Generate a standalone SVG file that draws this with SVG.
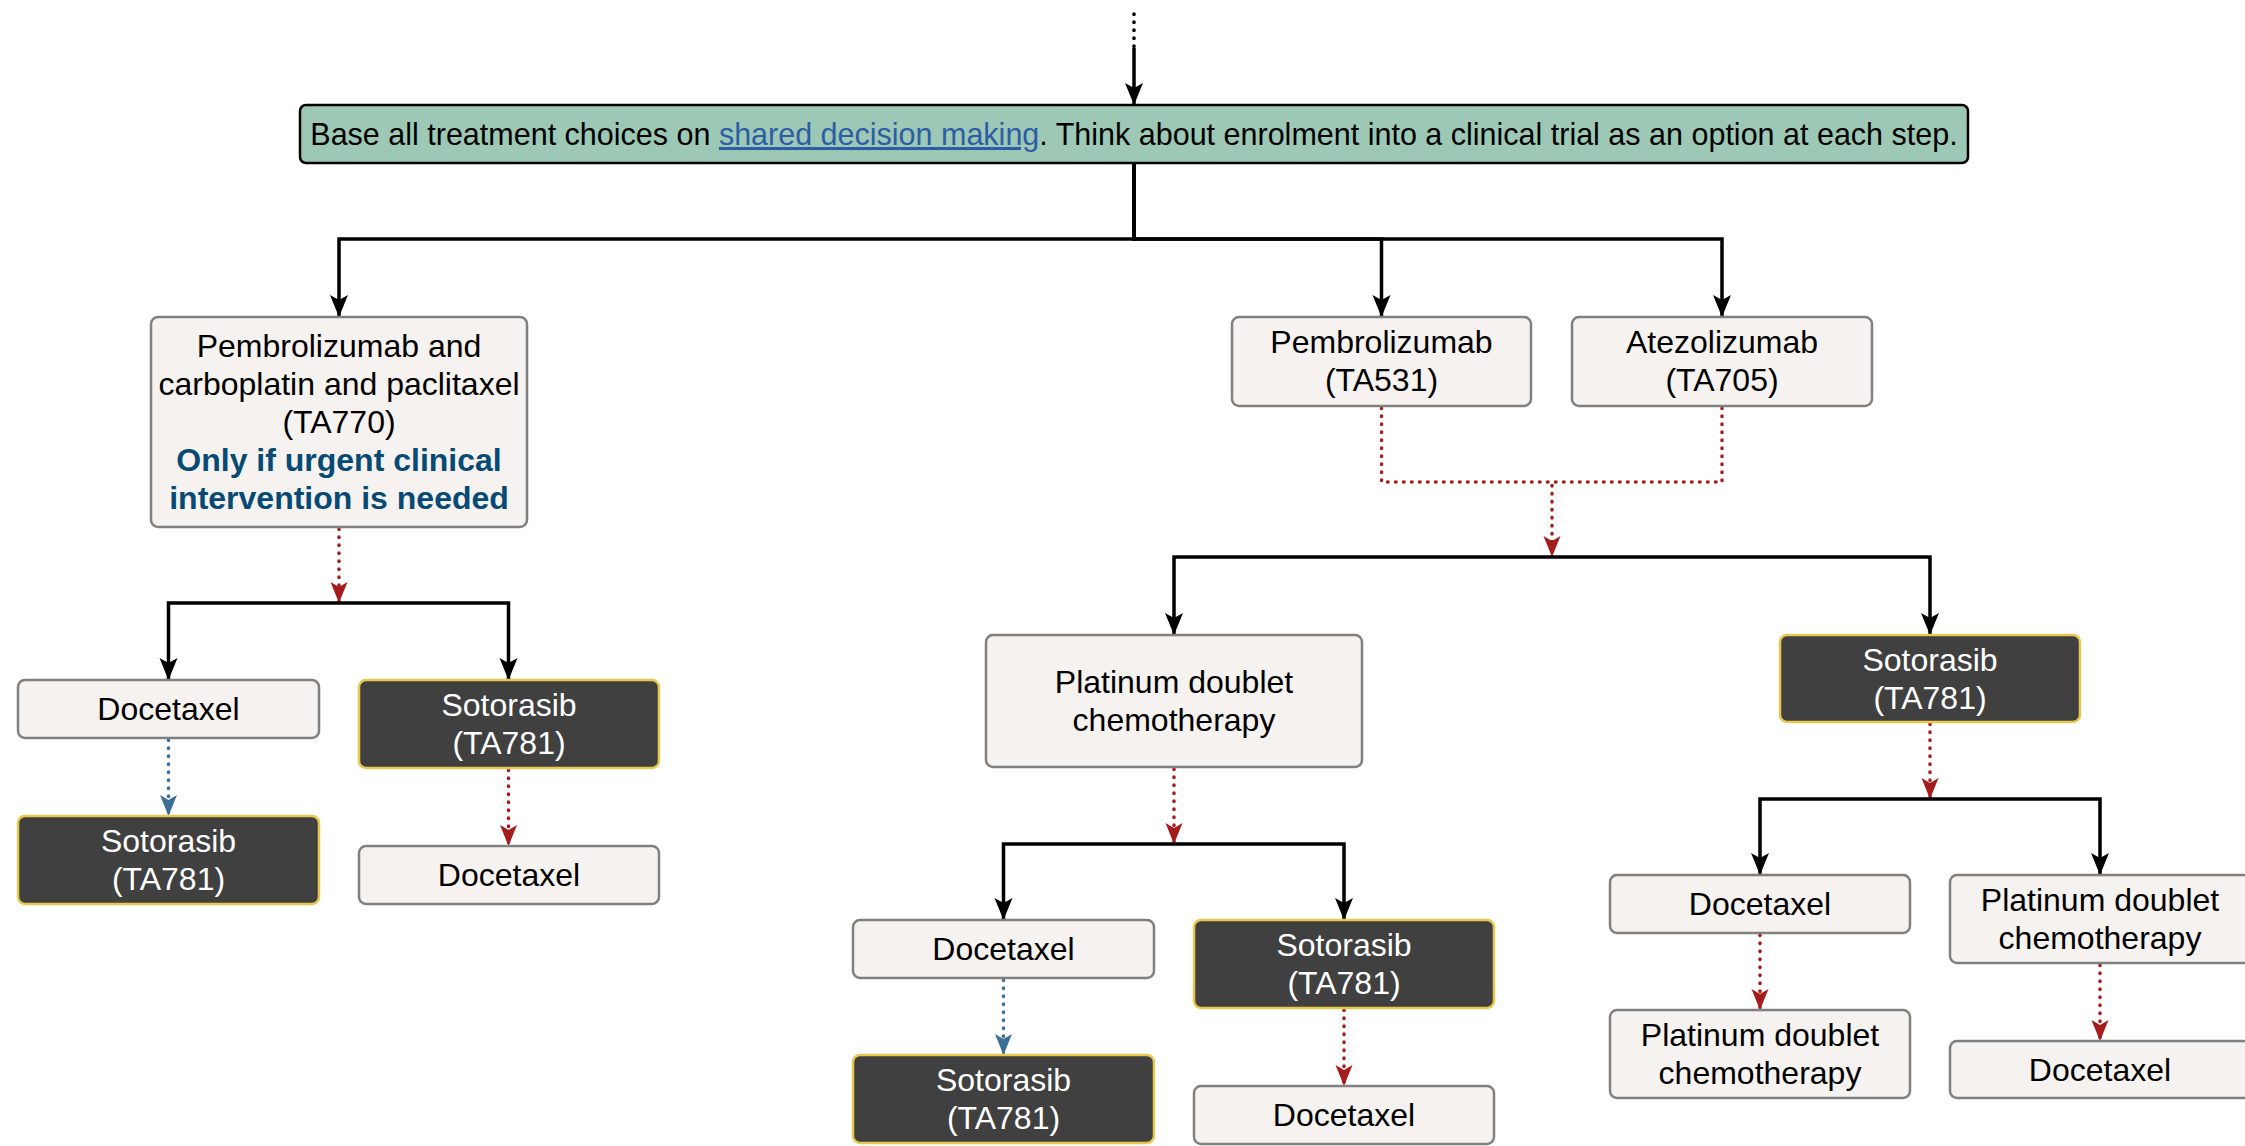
<svg xmlns="http://www.w3.org/2000/svg" width="2245" height="1146" viewBox="0 0 2245 1146">
<style>
text{font-family:"Liberation Sans",Arial,sans-serif;font-size:32px;text-anchor:middle;fill:#000}
.light{fill:#f5f2ef;stroke:#808080;stroke-width:2.5}
.dark{fill:#404040;stroke:#e8c94e;stroke-width:2.5}
.wt{fill:#fff}
.banner{fill:#9cc8b5;stroke:#000;stroke-width:2.5}
.solid{fill:none;stroke:#000;stroke-width:3.5}
.red{fill:none;stroke:#a51c1c;stroke-width:3.5;stroke-dasharray:0.5 7.5;stroke-linecap:round}
.blue{fill:none;stroke:#3b6f97;stroke-width:3.5;stroke-dasharray:0.5 7.5;stroke-linecap:round}
.bdot{fill:none;stroke:#000;stroke-width:3.5;stroke-dasharray:0.5 7.5;stroke-linecap:round}
.bold{font-weight:bold;fill:#074a75}
</style>
<defs>
<marker id="ak" markerUnits="userSpaceOnUse" viewBox="0 0 24 20" markerWidth="24" markerHeight="20" refX="22" refY="9" orient="auto"><path d="M0,0 L22,9 L0,18 L5,9 Z" fill="#000"/></marker>
<marker id="ar" markerUnits="userSpaceOnUse" viewBox="0 0 24 20" markerWidth="24" markerHeight="20" refX="21" refY="8.5" orient="auto"><path d="M0,0 L21,8.5 L0,17 L5,8.5 Z" fill="#a51c1c"/></marker>
<marker id="ab" markerUnits="userSpaceOnUse" viewBox="0 0 24 20" markerWidth="24" markerHeight="20" refX="21" refY="8.5" orient="auto"><path d="M0,0 L21,8.5 L0,17 L5,8.5 Z" fill="#3b6f97"/></marker>
</defs>
<rect width="2245" height="1146" fill="#fff"/>
<g id="connectors">
<path class="bdot" d="M1134,14 V50"/>
<path class="solid" d="M1134,48 V105" marker-end="url(#ak)"/>
<path class="solid" d="M1134,163 V239 H339 V317" marker-end="url(#ak)"/>
<path class="solid" d="M1134,163 V239 H1381.5 V317" marker-end="url(#ak)"/>
<path class="solid" d="M1134,163 V239 H1722 V317" marker-end="url(#ak)"/>
<path class="red" d="M339,529 V603" marker-end="url(#ar)"/>
<path class="solid" d="M339,603 H168.5 V680" marker-end="url(#ak)"/>
<path class="solid" d="M339,603 H508.5 V680" marker-end="url(#ak)"/>
<path class="blue" d="M168.5,740 V816" marker-end="url(#ab)"/>
<path class="red" d="M508.5,770 V846" marker-end="url(#ar)"/>
<path class="red" d="M1381.5,408 V482 H1552 V557" marker-end="url(#ar)"/>
<path class="red" d="M1722,408 V482 H1552"/>
<path class="solid" d="M1552,557 H1174 V635" marker-end="url(#ak)"/>
<path class="solid" d="M1552,557 H1930 V635" marker-end="url(#ak)"/>
<path class="red" d="M1174,769 V844" marker-end="url(#ar)"/>
<path class="solid" d="M1174,844 H1003.5 V920" marker-end="url(#ak)"/>
<path class="solid" d="M1174,844 H1344 V920" marker-end="url(#ak)"/>
<path class="blue" d="M1003.5,980 V1055" marker-end="url(#ab)"/>
<path class="red" d="M1344,1010 V1086" marker-end="url(#ar)"/>
<path class="red" d="M1930,724 V799" marker-end="url(#ar)"/>
<path class="solid" d="M1930,799 H1760 V875" marker-end="url(#ak)"/>
<path class="solid" d="M1930,799 H2100 V875" marker-end="url(#ak)"/>
<path class="red" d="M1760,935 V1010" marker-end="url(#ar)"/>
<path class="red" d="M2100,965 V1041" marker-end="url(#ar)"/>
</g>
<g id="banner">
<rect class="banner" x="300" y="105" width="1668" height="58" rx="6"/>
<text x="1134" y="145" style="font-size:30.5px">Base all treatment choices on <tspan fill="#2c5da5" text-decoration="underline">shared decision making</tspan>. Think about enrolment into a clinical trial as an option at each step.</text>
</g>
<g id="nodeA">
<rect class="light" x="151" y="317" width="376" height="210" rx="7"/>
<text x="339" y="357">Pembrolizumab and</text>
<text x="339" y="395">carboplatin and paclitaxel</text>
<text x="339" y="433">(TA770)</text>
<text x="339" y="471" class="bold">Only if urgent clinical</text>
<text x="339" y="509" class="bold">intervention is needed</text>
</g>
<g id="nodeR1">
<rect class="light" x="1232" y="317" width="299" height="89" rx="7"/>
<text x="1381.5" y="353">Pembrolizumab</text>
<text x="1381.5" y="391">(TA531)</text>
</g>
<g id="nodeR2">
<rect class="light" x="1572" y="317" width="300" height="89" rx="7"/>
<text x="1722" y="353">Atezolizumab</text>
<text x="1722" y="391">(TA705)</text>
</g>
<g id="nodeL1">
<rect class="light" x="18" y="680" width="301" height="58" rx="7"/>
<text x="168.5" y="720">Docetaxel</text>
</g>
<g id="nodeL2">
<rect class="dark" x="359" y="680" width="300" height="88" rx="7"/>
<text class="wt" x="509" y="716">Sotorasib</text>
<text class="wt" x="509" y="754">(TA781)</text>
</g>
<g id="nodeL3">
<rect class="dark" x="18" y="816" width="301" height="88" rx="7"/>
<text class="wt" x="168.5" y="852">Sotorasib</text>
<text class="wt" x="168.5" y="890">(TA781)</text>
</g>
<g id="nodeL4">
<rect class="light" x="359" y="846" width="300" height="58" rx="7"/>
<text x="509" y="886">Docetaxel</text>
</g>
<g id="nodeM1">
<rect class="light" x="986" y="635" width="376" height="132" rx="7"/>
<text x="1174" y="693">Platinum doublet</text>
<text x="1174" y="731">chemotherapy</text>
</g>
<g id="nodeM2">
<rect class="dark" x="1780" y="635" width="300" height="87" rx="7"/>
<text class="wt" x="1930" y="671">Sotorasib</text>
<text class="wt" x="1930" y="709">(TA781)</text>
</g>
<g id="nodeM1a">
<rect class="light" x="853" y="920" width="301" height="58" rx="7"/>
<text x="1003.5" y="960">Docetaxel</text>
</g>
<g id="nodeM1b">
<rect class="dark" x="1194" y="920" width="300" height="88" rx="7"/>
<text class="wt" x="1344" y="956">Sotorasib</text>
<text class="wt" x="1344" y="994">(TA781)</text>
</g>
<g id="nodeM1c">
<rect class="dark" x="853" y="1055" width="301" height="88" rx="7"/>
<text class="wt" x="1003.5" y="1091">Sotorasib</text>
<text class="wt" x="1003.5" y="1129">(TA781)</text>
</g>
<g id="nodeM1d">
<rect class="light" x="1194" y="1086" width="300" height="58" rx="7"/>
<text x="1344" y="1126">Docetaxel</text>
</g>
<g id="nodeR2a">
<rect class="light" x="1610" y="875" width="300" height="58" rx="7"/>
<text x="1760" y="915">Docetaxel</text>
</g>
<g id="nodeR2b">
<rect class="light" x="1950" y="875" width="300" height="88" rx="7"/>
<text x="2100" y="911">Platinum doublet</text>
<text x="2100" y="949">chemotherapy</text>
</g>
<g id="nodeR2c">
<rect class="light" x="1610" y="1010" width="300" height="88" rx="7"/>
<text x="1760" y="1046">Platinum doublet</text>
<text x="1760" y="1084">chemotherapy</text>
</g>
<g id="nodeR2d">
<rect class="light" x="1950" y="1041" width="300" height="57" rx="7"/>
<text x="2100" y="1081">Docetaxel</text>
</g>
</svg>
